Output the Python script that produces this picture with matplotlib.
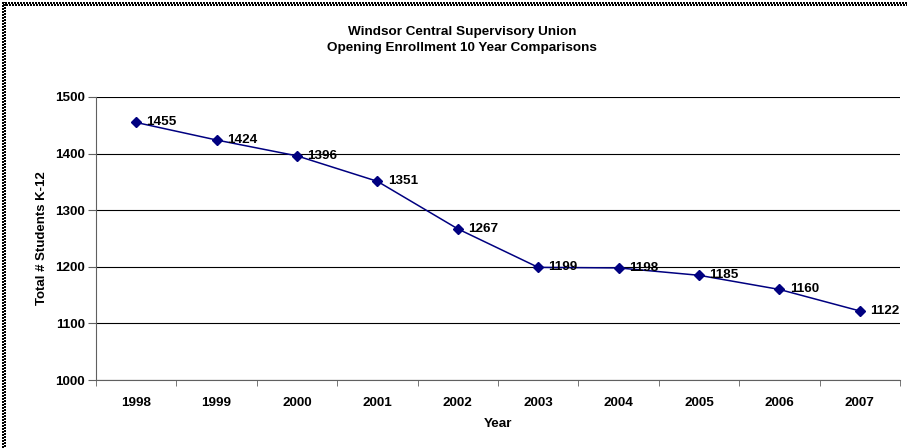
import matplotlib
matplotlib.use('Agg')
import matplotlib.pyplot as plt
from matplotlib.lines import Line2D

years = ['1998', '1999', '2000', '2001', '2002', '2003', '2004', '2005', '2006', '2007']
enrollment = [1455, 1424, 1396, 1351, 1267, 1199, 1198, 1185, 1160, 1122]

plt.rcParams['font.family'] = ['Liberation Sans', 'DejaVu Sans']
plt.rcParams['font.weight'] = 'bold'

W, H = 907, 448
fig = plt.figure(figsize=(W/100, H/100), dpi=100)
ax = fig.add_axes([96/W, 68/H, 804/W, 283/H])

x = list(range(len(years)))
ax.plot(x, enrollment, color='#000080', lw=1.1, marker='D', ms=5,
        markerfacecolor='#000080', markeredgecolor='#000080', zorder=3)
for xi, v in zip(x, enrollment):
    ax.annotate(str(v), (xi, v), xytext=(7.5, 0), textcoords='offset points',
                va='center', ha='left', fontsize=9.7, fontweight='bold')

ax.set_xlim(-0.5, len(years) - 0.5)
ax.set_ylim(1000, 1500)
ax.set_yticks(range(1000, 1501, 100))
ax.yaxis.grid(True, color='black', lw=0.8)
ax.set_axisbelow(True)

ax.set_xticks(x)
ax.set_xticklabels(years, fontsize=9.7, fontweight='bold')
ax.set_xticks([i - 0.5 for i in range(len(years) + 1)], minor=True)
ax.tick_params(axis='x', which='major', length=0, pad=12)
ax.tick_params(axis='x', which='minor', length=4, direction='out', color='#606060')
ax.tick_params(axis='y', labelsize=9.7, length=6, pad=2, color='#606060')
for lab in ax.get_yticklabels():
    lab.set_fontweight('bold')

ax.spines['top'].set_visible(False)
ax.spines['right'].set_visible(False)
ax.spines['left'].set_color('#606060')
ax.spines['bottom'].set_color('#606060')

ax.set_xlabel('Year', fontsize=9.7, fontweight='bold')
ax.xaxis.set_label_coords(0.5, -(424 - 380) / 283)
ax.xaxis.label.set_va('center')
ax.set_ylabel('Total # Students K-12', fontsize=9.5, fontweight='bold')
ax.yaxis.set_label_coords(-(96 - 42) / 804, 0.5)
ax.yaxis.label.set_va('center')

fig.text(462/W, 1 - 32/H, 'Windsor Central Supervisory Union', ha='center', va='center',
         fontsize=9.7, fontweight='bold')
fig.text(462/W, 1 - 48/H, 'Opening Enrollment 10 Year Comparisons', ha='center', va='center',
         fontsize=9.7, fontweight='bold')

# checkered border on top and left
for off, dash_off in [(3, 0), (5, 1)]:
    fig.add_artist(Line2D([2/W, 1], [1 - off/H, 1 - off/H], transform=fig.transFigure,
                          color='black', lw=1.44, linestyle=(dash_off, (1, 1)),
                          antialiased=False, solid_capstyle='butt', dash_capstyle='butt'))
    fig.add_artist(Line2D([off/W, off/W], [0, 1 - 2/H], transform=fig.transFigure,
                          color='black', lw=1.44, linestyle=(dash_off, (1, 1)),
                          antialiased=False, solid_capstyle='butt', dash_capstyle='butt'))

fig.savefig('out.png', dpi=100)
